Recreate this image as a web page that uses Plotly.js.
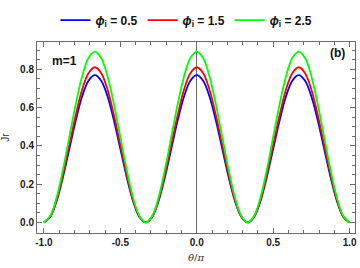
<!DOCTYPE html>
<html>
<head>
<meta charset="utf-8">
<script src="https://cdn.plot.ly/plotly-3.0.1.min.js"></script>
<style>html,body{margin:0;padding:0;background:#fff;}#chart{width:360px;height:268px;}</style>
</head>
<body>
<div id="chart"></div>
<script>
var theta = [-1, -0.9583, -0.9167, -0.875, -0.8333, -0.7917, -0.75, -0.7083, -0.6667, -0.625, -0.5833, -0.5417,
  -0.5, -0.4583, -0.4167, -0.375, -0.3333, -0.2917, -0.25, -0.2083, -0.1667, -0.125, -0.0833, -0.0417,
  0, 0.0417, 0.0833, 0.125, 0.1667, 0.2083, 0.25, 0.2917, 0.3333, 0.375, 0.4167, 0.4583,
  0.5, 0.5417, 0.5833, 0.625, 0.6667, 0.7083, 0.75, 0.7917, 0.8333, 0.875, 0.9167, 0.9583, 1];

var jr05 = [0.000,0.029,0.112,0.238,0.385,0.532,0.658,0.741,0.770,0.741,0.658,0.532,0.385,0.238,0.112,0.029,
  0.000,0.029,0.112,0.238,0.385,0.532,0.658,0.741,0.770,0.741,0.658,0.532,0.385,0.238,0.112,0.029,
  0.000,0.029,0.112,0.238,0.385,0.532,0.658,0.741,0.770,0.741,0.658,0.532,0.385,0.238,0.112,0.029,0.000];
var jr15 = [0.000,0.031,0.118,0.251,0.406,0.560,0.693,0.780,0.811,0.780,0.693,0.560,0.406,0.251,0.118,0.031,
  0.000,0.031,0.118,0.251,0.406,0.560,0.693,0.780,0.811,0.780,0.693,0.560,0.406,0.251,0.118,0.031,
  0.000,0.031,0.118,0.251,0.406,0.560,0.693,0.780,0.811,0.780,0.693,0.560,0.406,0.251,0.118,0.031,0.000];
var jr25 = [0.000,0.034,0.130,0.276,0.447,0.617,0.763,0.859,0.893,0.859,0.763,0.617,0.447,0.276,0.130,0.034,
  0.000,0.034,0.130,0.276,0.447,0.617,0.763,0.859,0.893,0.859,0.763,0.617,0.447,0.276,0.130,0.034,
  0.000,0.034,0.130,0.276,0.447,0.617,0.763,0.859,0.893,0.859,0.763,0.617,0.447,0.276,0.130,0.034,0.000];

var seriesNames = ["<b><i>ϕ</i><sub>i</sub> = 0.5</b>", "<b><i>ϕ</i><sub>i</sub> = 1.5</b>", "<b><i>ϕ</i><sub>i</sub> = 2.5</b>"];
var seriesData = [jr05, jr15, jr25];
var colors = ["#0000ff", "#ff0000", "#00ff00"];

var traces = seriesData.map(function (ys, i) {
  return {x: theta, y: ys, type: "scatter", mode: "lines", name: seriesNames[i],
    line: {color: colors[i], width: 1.8, shape: "spline", smoothing: 1}};
});

var axisCommon = {
  showgrid: false, showline: true, linecolor: "#6b6b6b", linewidth: 1, mirror: "ticks",
  ticks: "inside", ticklen: 5, tickcolor: "#6b6b6b", tickwidth: 1,
  tickfont: {family: "Liberation Sans, Arial, sans-serif", size: 10, color: "#1a1a1a", weight: "bold"}
};

var layout = {
  width: 360, height: 268,
  margin: {l: 37, r: 5, t: 36, b: 35},
  paper_bgcolor: "#fff", plot_bgcolor: "#fff",
  showlegend: true,
  legend: {orientation: "h", x: 0.47, xanchor: "center", y: 1.115, yanchor: "middle",
    font: {family: "Liberation Sans, Arial, sans-serif", size: 12, color: "#111"},
    itemwidth: 30, tracegroupgap: 0},
  xaxis: Object.assign({}, axisCommon, {
    range: [-1.045, 1.035], tickvals: [-1, -0.5, 0, 0.5, 1], ticktext: ["-1.0", "-0.5", "0.0", "0.5", "1.0"],
    minor: {dtick: 0.1, ticks: "inside", ticklen: 3, tickcolor: "#6b6b6b", showgrid: false},
    zeroline: true, zerolinecolor: "#6b6b6b", zerolinewidth: 1,
    title: {text: "<i>θ</i>/<i>π</i>", standoff: 6, font: {family: "DejaVu Serif, serif", size: 10, color: "#333"}}
  }),
  yaxis: Object.assign({}, axisCommon, {
    range: [-0.055, 0.943], tickvals: [0, 0.2, 0.4, 0.6, 0.8], ticktext: ["0.0", "0.2", "0.4", "0.6", "0.8"],
    minor: {dtick: 0.05, ticks: "inside", ticklen: 3, tickcolor: "#6b6b6b", showgrid: false},
    zeroline: false,
    title: {text: "Jr", standoff: 8, font: {family: "Liberation Sans, Arial, sans-serif", size: 10, color: "#333"}}
  }),
  annotations: [
    {text: "<b>m=1</b>", xref: "paper", yref: "paper", x: 0.04, y: 0.9, xanchor: "left", yanchor: "middle",
     showarrow: false, font: {family: "Liberation Sans, Arial, sans-serif", size: 12, color: "#111"}},
    {text: "<b>(b)</b>", xref: "paper", yref: "paper", x: 0.975, y: 0.94, xanchor: "right", yanchor: "middle",
     showarrow: false, font: {family: "Liberation Sans, Arial, sans-serif", size: 12, color: "#111"}}
  ]
};

Plotly.newPlot("chart", traces, layout, {displayModeBar: false, staticPlot: true});
</script>
</body>
</html>
